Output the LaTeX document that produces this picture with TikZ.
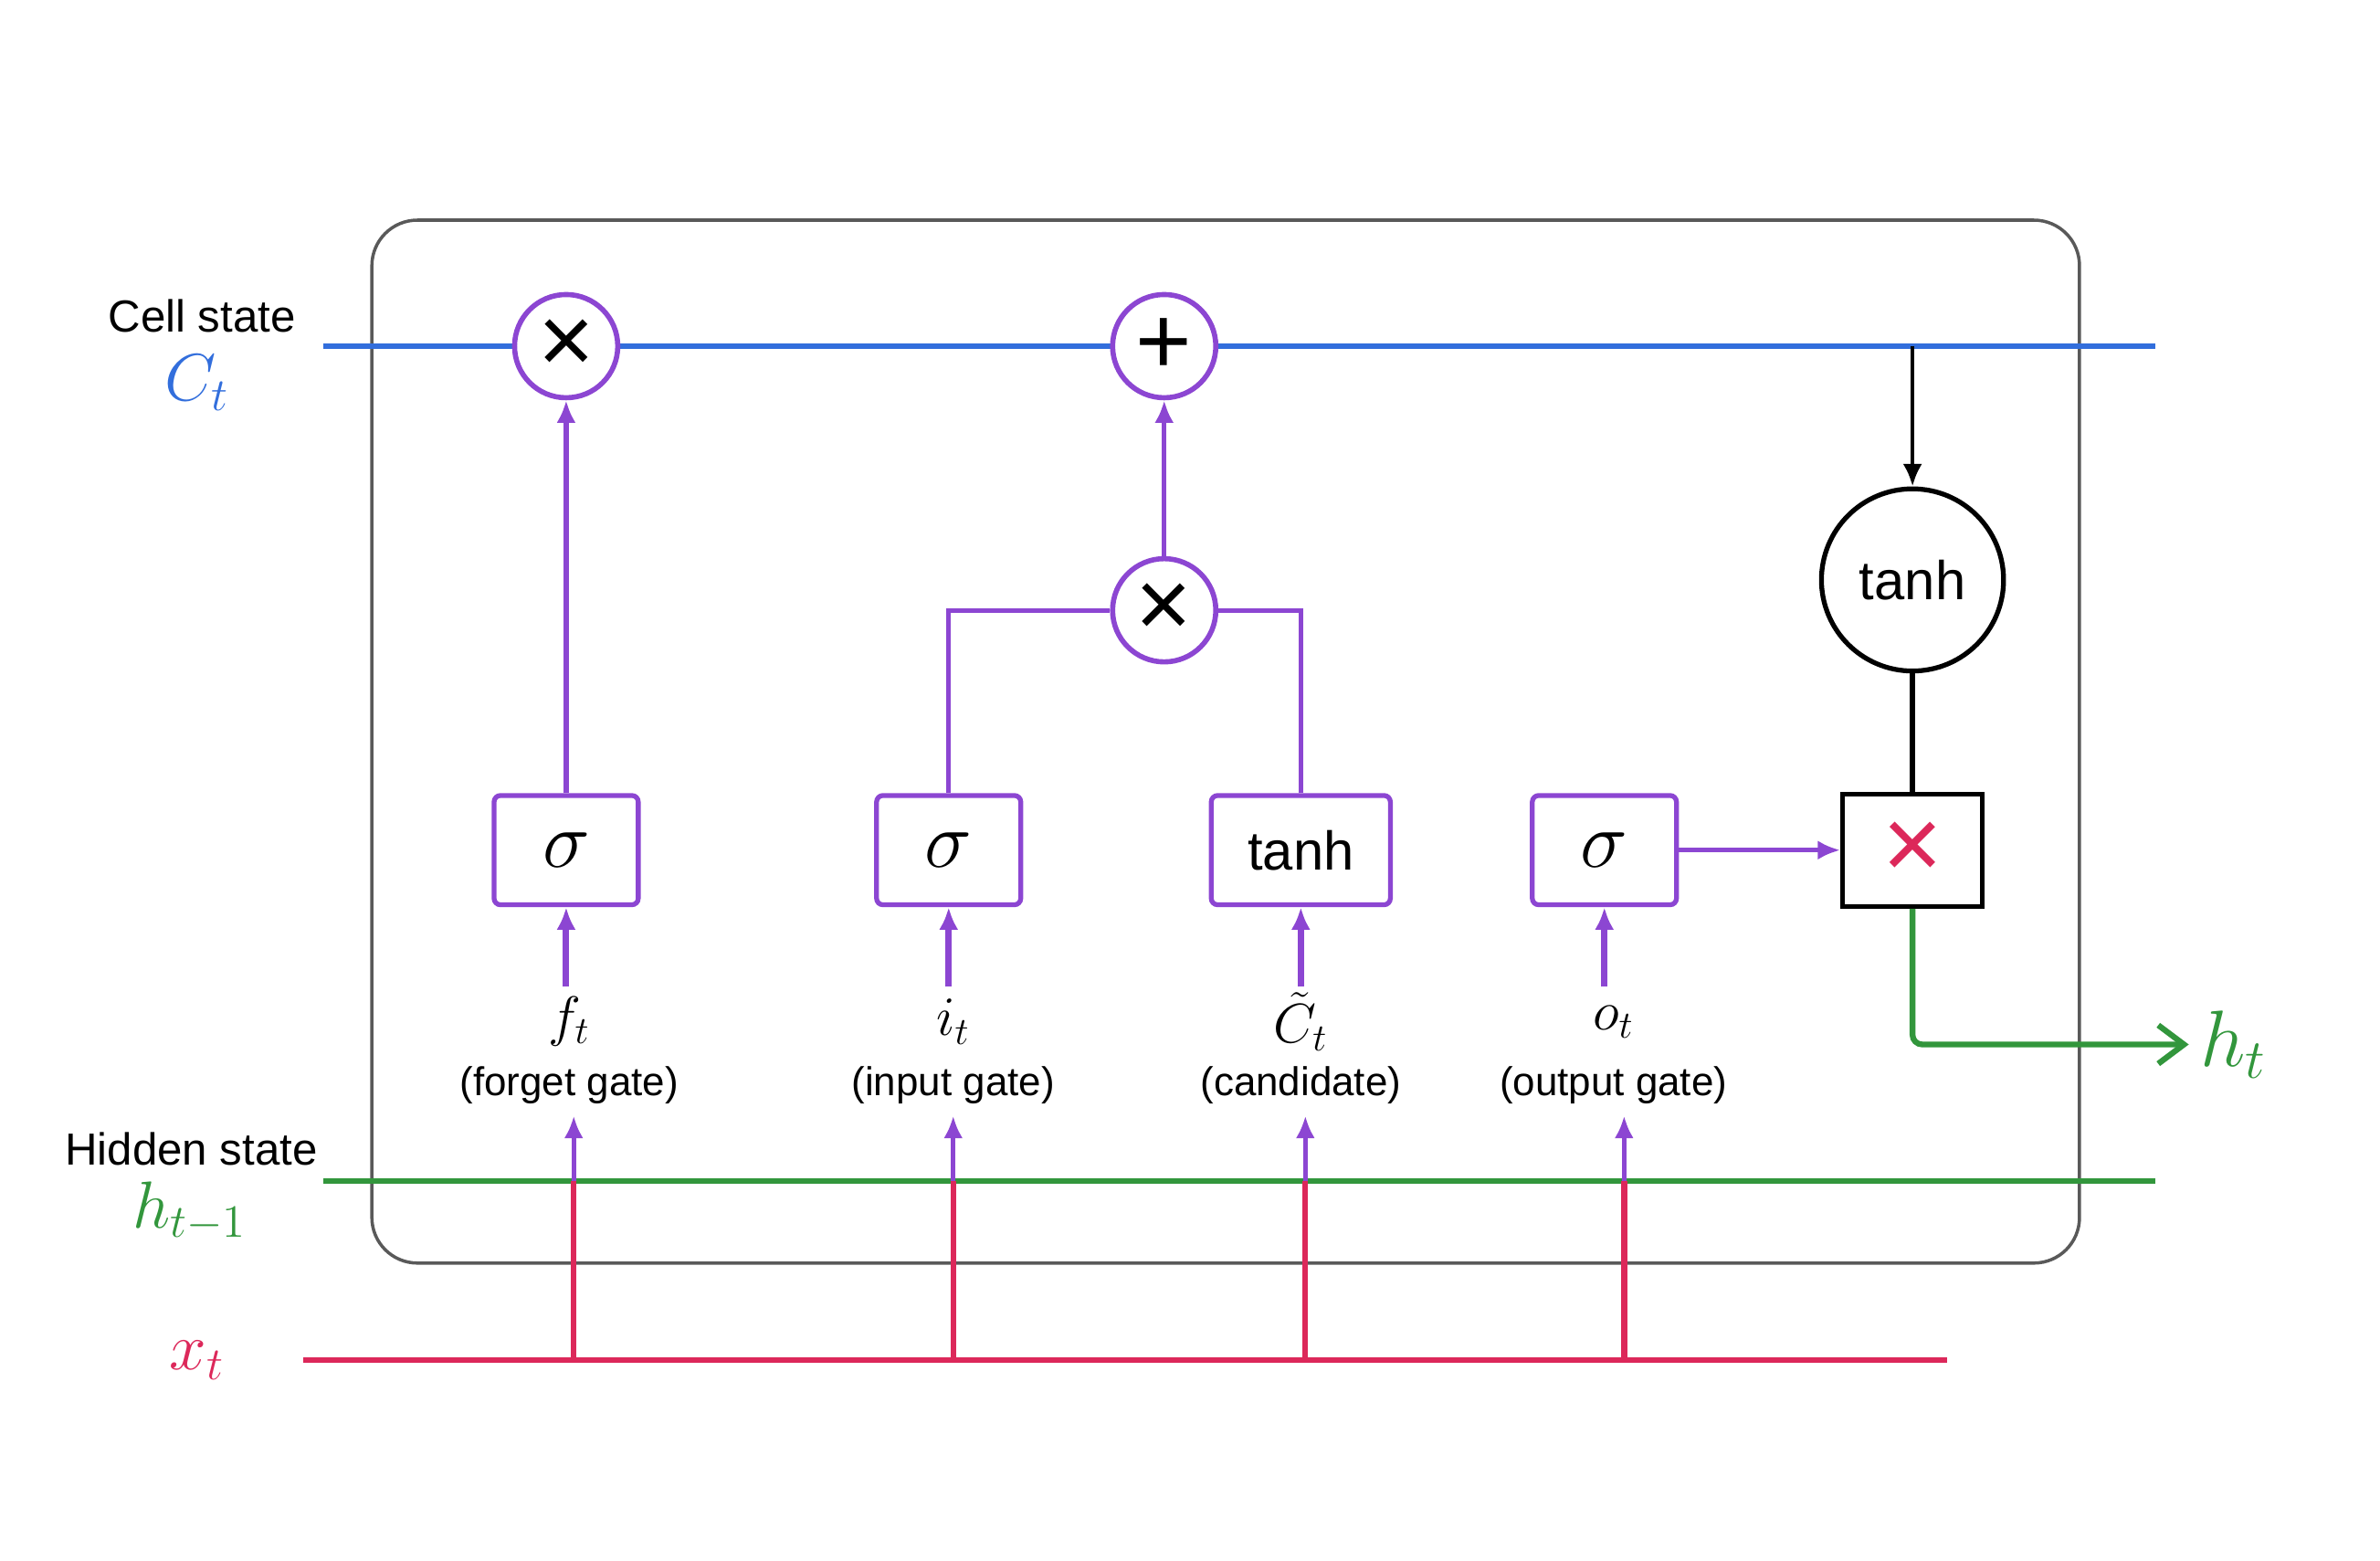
\documentclass[tikz,border=0pt]{standalone}
\usepackage{fontspec}
\setmainfont{Liberation Sans}
\usetikzlibrary{arrows.meta}
\definecolor{cellblue}{RGB}{50,110,220}
\definecolor{gatepurple}{RGB}{140,70,210}
\definecolor{hidgreen}{RGB}{50,150,60}
\definecolor{inred}{RGB}{220,40,90}
\begin{document}
\begin{tikzpicture}[x=0.01662cm, y=-0.01662cm,
    op/.style={circle, draw=gatepurple, line width=1.6pt, minimum size=68*0.01662cm, inner sep=0pt, fill=white,
               font=\fontsize{30}{30}\selectfont},
    gate/.style={draw=gatepurple, line width=1.5pt, rounded corners=2pt, minimum width=95*0.01662cm, minimum height=72*0.01662cm, inner sep=0pt, fill=white},
    sig/.style={font=\fontsize{26}{26}\selectfont},
    flow/.style={gatepurple, line width=1.5pt},
    arr/.style={-{Latex[length=7pt,width=6pt]}},
    lbl/.style={font=\fontsize{12.5}{14}\selectfont, inner sep=0pt}]
  \useasboundingbox (0,0) rectangle (1568,1028);

  % cell frame
  \draw[gray!70!black, line width=1pt, rounded corners=30*0.01662cm] (245,145) rectangle (1370,832);

  % state lines
  \draw[cellblue, line width=1.8pt] (213,228) -- (1420,228);
  \draw[hidgreen, line width=1.8pt] (213,778) -- (1420,778);
  \draw[inred, line width=1.8pt] (200,896) -- (1283,896);

  % side labels
  \node[font=\fontsize{14}{16}\selectfont] at (133,208) {Cell state};
  \node[cellblue, font=\fontsize{20}{22}\selectfont] at (130,252) {$C_t$};
  \node[font=\fontsize{14}{16}\selectfont] at (126,757) {Hidden state};
  \node[hidgreen, font=\fontsize{20}{22}\selectfont] at (125,798) {$h_{t-1}$};
  \node[inred, font=\fontsize{22}{24}\selectfont] at (130,896) {$x_t$};

  % operators
  \node[op] (mulf) at (373,228) {×};
  \node[op] (add) at (767,228) {+};
  \node[op] (muli) at (767,402) {×};
  \node[circle, draw, line width=1.5pt, minimum size=120*0.01662cm, inner sep=0pt,
        font=\fontsize{17}{19}\selectfont] (tanhc) at (1260,382) {tanh};

  % gates
  \node[gate, sig] (fg) at (373,560) {$\sigma$};
  \node[gate, sig] (ig) at (625,560) {$\sigma$};
  \node[gate, minimum width=118*0.01662cm, font=\fontsize{17}{19}\selectfont] (cg) at (857,560) {tanh};
  \node[gate, sig] (og) at (1057,560) {$\sigma$};
  \node[draw, line width=1.5pt, minimum width=92*0.01662cm, minimum height=74*0.01662cm,
        inner sep=0pt, text=inred, font=\fontsize{32}{32}\selectfont] (hmul) at (1260,560) {×};

  % gate labels
  \foreach \nm/\x/\sym/\txt in {f/375/f_t/forget gate, i/628/i_t/input gate,
                                c/857/\tilde{C}_t/candidate, o/1063/o_t/output gate} {
    \node[lbl, font=\fontsize{18}{18}\selectfont] (\nm sym) at (\x,673) {$\sym$};
    \node[lbl] (\nm txt) at (\x,715) {(\txt)};
  }

  % inputs from x_t through h_{t-1}
  \foreach \nm/\x/\g in {f/378/fg, i/628/ig, c/860/cg, o/1070/og} {
    \coordinate (\nm x) at (\x,896);
    \coordinate (\nm h) at (\x,778);
    \coordinate (\nm top) at (\g.south |- 0,650);
    \draw[inred, line width=1.8pt] (\nm x) -- (\nm h);
    \draw[flow, arr] (\nm h) -- (\x,735);
    \draw[flow, line width=2pt, arr] (\nm top) -- (\g.south);
  }

  % gate outputs
  \draw[flow, arr] (fg) -- (mulf);
  \draw[flow] (ig.north) |- (muli.west);
  \draw[flow] (cg.north) |- (muli.east);
  \draw[flow, arr] (muli) -- (add);
  \draw[flow, arr] (og) -- (hmul);

  % output path
  \coordinate (tap) at (1260,228);
  \draw[line width=1.3pt, arr] (tap) -- (tanhc);
  \draw[line width=1.5pt] (tanhc) -- (hmul);
  \coordinate (hout) at (1442,688);
  \draw[hidgreen, line width=1.8pt, rounded corners=3pt, -{Straight Barb[length=8pt,width=12pt]}] (hmul.south) |- (hout);
  \node[hidgreen, font=\fontsize{24}{26}\selectfont, anchor=west] at (hout) {$h_t$};
\end{tikzpicture}
\end{document}
